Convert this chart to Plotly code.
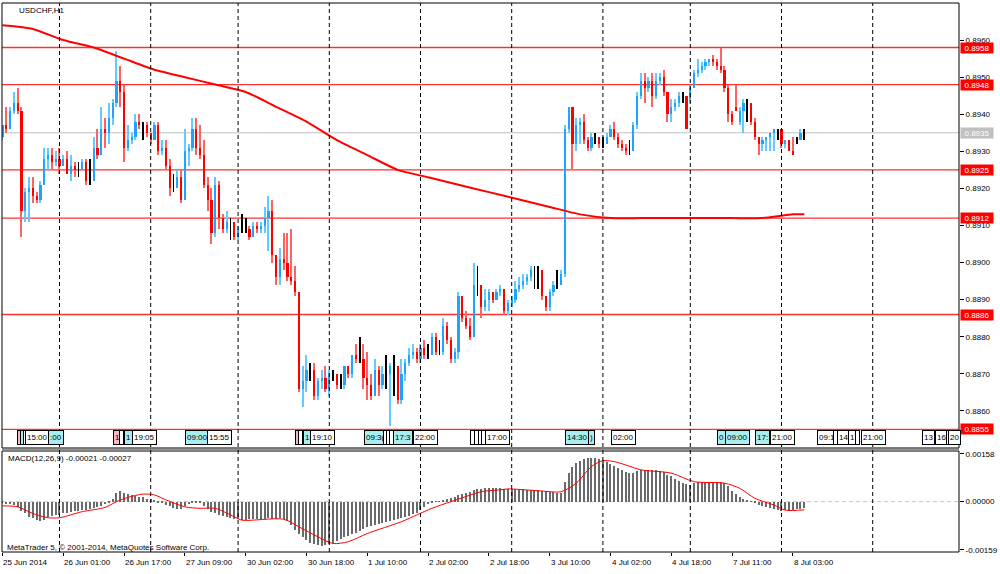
import plotly.graph_objects as go

# ---------------- DATA ----------------
closes = [
 0.8937,0.8936,0.8941,0.8943,0.8941,0.8914,0.8919,0.8920,0.8918,0.8917,
 0.8921,0.8928,0.8929,0.8927,0.8928,0.8926,0.8928,0.8924,0.8926,0.8925,
 0.8925,0.8927,0.8922,0.8922,0.8931,0.8929,0.8936,0.8935,0.8939,0.8943,
 0.8949,0.8946,0.8931,0.8933,0.8934,0.8938,0.8937,0.8937,0.8935,0.8933,
 0.8937,0.8930,0.8931,0.8926,0.8920,0.8920,0.8923,0.8917,0.8930,0.8931,
 0.8936,0.8931,0.8929,0.8921,0.8917,0.8908,0.8921,0.8912,0.8909,0.8911,
 0.8911,0.8907,0.8909,0.8909,0.8909,0.8907,0.8910,0.8909,0.8910,0.8912,
 0.8914,0.8902,0.8896,0.8901,0.8900,0.8896,0.8895,0.8892,0.8866,0.8868,
 0.8871,0.8871,0.8864,0.8868,0.8869,0.8866,0.8870,0.8870,0.8867,0.8867,
 0.8872,0.8870,0.8875,0.8874,0.8874,0.8869,0.8867,0.8864,0.8871,0.8867,
 0.8870,0.8870,0.8872,0.8872,0.8863,0.8870,0.8873,0.8875,0.8876,0.8874,
 0.8877,0.8875,0.8875,0.8880,0.8876,0.8876,0.8883,0.8879,0.8874,0.8876,
 0.8891,0.8885,0.8883,0.8880,0.8894,0.8894,0.8888,0.8890,0.8892,0.8890,
 0.8892,0.8893,0.8887,0.8889,0.8890,0.8893,0.8894,0.8895,0.8896,0.8898,
 0.8898,0.8898,0.8891,0.8888,0.8892,0.8894,0.8894,0.8897,0.8936,0.8942,
 0.8932,0.8937,0.8938,0.8933,0.8931,0.8934,0.8934,0.8932,0.8932,0.8934,
 0.8936,0.8934,0.8932,0.8931,0.8930,0.8930,0.8937,0.8945,0.8949,0.8947,
 0.8949,0.8945,0.8949,0.8950,0.8946,0.8940,0.8942,0.8943,0.8945,0.8945,
 0.8936,0.8947,0.8951,0.8952,0.8953,0.8954,0.8955,0.8954,0.8953,0.8952,
 0.8947,0.8940,0.8938,0.8941,0.8941,0.8943,0.8943,0.8938,0.8934,0.8932,
 0.8933,0.8934,0.8935,0.8936,0.8936,0.8932,0.8933,0.8930,0.8929,0.8933,
 0.8935,0.8935]

highs = [
 0.8937,0.8942,0.8942,0.8946,0.8947,0.8942,0.8920,0.8923,0.8923,0.8919,
 0.8922,0.8931,0.8931,0.8931,0.8930,0.8931,0.8929,0.8930,0.8929,0.8927,
 0.8927,0.8928,0.8928,0.8928,0.8934,0.8936,0.8942,0.8939,0.8943,0.8944,
 0.8957,0.8953,0.8948,0.8937,0.8935,0.8940,0.8940,0.8938,0.8938,0.8935,
 0.8938,0.8938,0.8933,0.8933,0.8928,0.8924,0.8925,0.8925,0.8936,0.8932,
 0.8939,0.8939,0.8937,0.8933,0.8923,0.8920,0.8923,0.8922,0.8913,0.8914,
 0.8912,0.8911,0.8910,0.8913,0.8912,0.8910,0.8911,0.8911,0.8911,0.8915,
 0.8918,0.8917,0.8902,0.8904,0.8908,0.8908,0.8909,0.8899,0.8892,0.8872,
 0.8875,0.8873,0.8873,0.8869,0.8871,0.8872,0.8871,0.8871,0.8870,0.8870,
 0.8872,0.8872,0.8875,0.8878,0.8880,0.8878,0.8876,0.8870,0.8874,0.8872,
 0.8872,0.8875,0.8873,0.8875,0.8872,0.8874,0.8874,0.8877,0.8878,0.8877,
 0.8878,0.8879,0.8878,0.8881,0.8881,0.8879,0.8885,0.8884,0.8880,0.8877,
 0.8892,0.8891,0.8887,0.8885,0.8900,0.8899,0.8894,0.8893,0.8893,0.8892,
 0.8893,0.8894,0.8893,0.8890,0.8891,0.8895,0.8896,0.8897,0.8897,0.8899,
 0.8899,0.8899,0.8898,0.8891,0.8893,0.8895,0.8898,0.8898,0.8937,0.8942,
 0.8942,0.8939,0.8939,0.8940,0.8934,0.8935,0.8935,0.8934,0.8934,0.8935,
 0.8937,0.8938,0.8935,0.8933,0.8932,0.8933,0.8938,0.8946,0.8951,0.8951,
 0.8950,0.8951,0.8951,0.8951,0.8952,0.8946,0.8944,0.8944,0.8946,0.8946,
 0.8945,0.8948,0.8952,0.8955,0.8954,0.8955,0.8955,0.8956,0.8955,0.8958,
 0.8953,0.8948,0.8941,0.8948,0.8942,0.8944,0.8944,0.8943,0.8939,0.8934,
 0.8934,0.8934,0.8935,0.8936,0.8936,0.8934,0.8933,0.8933,0.8934,0.8934,
 0.8936,0.8936]

lows = [
 0.8933,0.8935,0.8936,0.8940,0.8940,0.8907,0.8911,0.8911,0.8916,0.8916,
 0.8916,0.8921,0.8925,0.8925,0.8926,0.8924,0.8926,0.8924,0.8922,0.8923,
 0.8923,0.8925,0.8921,0.8921,0.8922,0.8928,0.8929,0.8931,0.8932,0.8937,
 0.8942,0.8942,0.8927,0.8930,0.8932,0.8933,0.8936,0.8933,0.8934,0.8932,
 0.8933,0.8929,0.8929,0.8925,0.8918,0.8919,0.8920,0.8916,0.8917,0.8926,
 0.8930,0.8929,0.8928,0.8920,0.8914,0.8905,0.8907,0.8909,0.8908,0.8908,
 0.8906,0.8906,0.8906,0.8908,0.8908,0.8906,0.8907,0.8908,0.8908,0.8908,
 0.8903,0.8900,0.8894,0.8894,0.8898,0.8895,0.8894,0.8891,0.8865,0.8861,
 0.8865,0.8868,0.8863,0.8863,0.8866,0.8865,0.8864,0.8868,0.8866,0.8866,
 0.8866,0.8869,0.8869,0.8873,0.8873,0.8866,0.8863,0.8863,0.8864,0.8864,
 0.8866,0.8866,0.8856,0.8864,0.8862,0.8862,0.8868,0.8872,0.8874,0.8873,
 0.8873,0.8874,0.8874,0.8875,0.8875,0.8875,0.8875,0.8878,0.8873,0.8873,
 0.8874,0.8884,0.8882,0.8879,0.8880,0.8891,0.8885,0.8887,0.8887,0.8889,
 0.8890,0.8891,0.8886,0.8886,0.8888,0.8889,0.8892,0.8893,0.8894,0.8895,
 0.8893,0.8893,0.8890,0.8887,0.8887,0.8891,0.8893,0.8894,0.8896,0.8935,
 0.8925,0.8930,0.8932,0.8932,0.8930,0.8930,0.8932,0.8931,0.8931,0.8932,
 0.8934,0.8933,0.8931,0.8930,0.8929,0.8929,0.8930,0.8936,0.8944,0.8943,
 0.8946,0.8942,0.8944,0.8948,0.8945,0.8938,0.8938,0.8941,0.8942,0.8943,
 0.8936,0.8943,0.8947,0.8950,0.8951,0.8952,0.8953,0.8953,0.8952,0.8951,
 0.8946,0.8938,0.8937,0.8941,0.8937,0.8935,0.8938,0.8937,0.8933,0.8929,
 0.8930,0.8930,0.8930,0.8930,0.8933,0.8931,0.8931,0.8930,0.8929,0.8932,
 0.8933,0.8933]

# opens follow the previous close except where the chart shows a gap
open_overrides = {0: 0.8934, 181: 0.8944, 193: 0.8942, 194: 0.8938, 209: 0.8933}

# long moving average (red line), read every 8 bars
ma_idx = [0, 8, 16, 24, 32, 40, 48, 56, 64, 72, 80, 88, 96, 104, 112, 120,
          128, 136, 144, 152, 160, 168, 176, 184, 192, 200, 208, 211]
ma_vals = [0.8964, 0.8963, 0.8960, 0.8958, 0.8955, 0.8952, 0.8950, 0.8948,
           0.8946, 0.8942, 0.8938, 0.8933, 0.8929, 0.8925, 0.8923, 0.8921,
           0.8919, 0.8917, 0.8915, 0.8913, 0.8912, 0.8912, 0.8912, 0.8912,
           0.8912, 0.8912, 0.8913, 0.8913]

# MACD main (histogram), in units of 1e-5
macd_e5 = [
 -6,-8,-8,-11,-19,-30,-39,-50,-55,-61,-64,-61,-52,-47,-44,-43,-39,-36,-34,-32,
 -30,-29,-28,-25,-22,-19,-14,-8,-3,10,30,36,30,25,21,19,17,14,10,8,
 3,-2,-6,-10,-14,-20,-24,-23,-14,-8,-4,-3,-6,-14,-25,-33,-39,-43,-47,-50,
 -53,-56,-58,-61,-59,-58,-57,-57,-57,-56,-55,-56,-56,-55,-58,-63,-77,-94,-107,-118,
 -128,-135,-140,-144,-145,-144,-140,-135,-129,-123,-118,-112,-107,-102,-98,-91,-85,-80,-76,-74,
 -69,-66,-63,-61,-58,-54,-50,-46,-42,-36,-28,-19,-8,-4,-1,2,6,9,11,17,
 22,25,28,32,39,42,43,44,44,44,44,44,43,42,42,42,41,41,40,39,
 39,37,36,34,33,32,30,30,66,96,113,127,135,141,143,143,143,141,136,131,
 125,119,111,105,99,96,96,101,105,105,105,105,105,102,98,89,83,76,69,63,
 58,55,61,64,65,65,65,65,65,64,61,50,36,25,14,8,6,1,-6,-11,
 -14,-19,-22,-25,-28,-30,-29,-28,-28,-25,-23,-21]

# MACD signal line, in units of 1e-5
sig_idx = [0, 4, 8, 12, 15, 21, 27, 30, 33, 37, 40, 43, 48, 52, 56, 61, 63, 74,
           78, 83, 87, 91, 96, 105, 109, 113, 118, 122, 126, 131, 133, 141, 147,
           151, 155, 158, 161, 164, 168, 176, 182, 190, 194, 198, 203, 206, 211]
sig_e5 = [-14, -17, -39, -53, -53, -33, -19, 0, 14, 25, 22, 6, -17, -22, -22, -50,
          -61, -58, -83, -116, -138, -132, -105, -66, -44, -22, 0, 17, 33, 39, 42,
          36, 33, 61, 116, 135, 132, 121, 105, 94, 66, 61, 44, 11, -11, -28, -27]

levels = [0.8958, 0.8948, 0.8925, 0.8912, 0.8886, 0.8855]
bid = 0.8935
price_ticks = [0.8860, 0.8870, 0.8880, 0.8890, 0.8900, 0.8910, 0.8920,
               0.8930, 0.8940, 0.8950, 0.8960]
macd_ticks = [0.00158, 0.0, -0.00159]
macd_ticktext = ["0.00158", "0.00000", "-0.00159"]

time_idx = [0, 16, 32, 48, 64, 80, 96, 112, 128, 144, 160, 176, 192, 208]
time_labels = ["25 Jun 2014", "26 Jun 01:00", "26 Jun 17:00", "27 Jun 09:00",
               "30 Jun 02:00", "30 Jun 18:00", "1 Jul 10:00", "2 Jul 02:00",
               "2 Jul 18:00", "3 Jul 10:00", "4 Jul 02:00", "4 Jul 18:00",
               "7 Jul 11:00", "8 Jul 03:00"]
day_sep_idx = [15, 39, 62, 86, 110, 134, 158, 181, 205, 229]

# economic calendar event markers (bar position, label, kind)
events = [
 (3.8, "", "p"), (4.6, "", "c"), (5.4, "", "w"), (6, "15:00", "w"), (11.9, ":00", "c"),
 (29.1, "1", "p"), (30.7, "", "w"), (32, "1", "c"), (34, "19:05", "w"),
 (48, "09:00", "c"), (53.8, "15:55", "w"),
 (77, "", "p"), (77.8, "", "w"), (79, "1", "c"), (80.9, "19:10", "w"),
 (95, "09:3(", "c"), (100.2, "", "w"), (101, "", "w"), (101.8, "", "w"),
 (102.8, "17:3", "c"), (108, "22:00", "w"),
 (123, "", "w"), (124, "", "w"), (125, "", "w"), (126, "", "w"), (127, "17:00", "w"),
 (148, "14:30", "c"), (154, ")", "c"), (160, "02:00", "w"),
 (188, "0", "c"), (190, "09:00", "c"), (198, "17:", "c"), (202, "21:00", "w"),
 (214.3, "09:1", "w"), (218.5, "", "w"), (219.6, "14", "w"), (222.5, "1", "w"),
 (224.3, "", "w"), (226, "21:00", "w"),
 (242, "13", "w"), (245.4, "16", "w"), (248.3, "", "w"), (248.9, "20", "w"),
]

# ---------------- BUILD ----------------
n = len(closes)
xs = list(range(n))
opens = [open_overrides.get(i, closes[i - 1] if i > 0 else closes[0]) for i in range(n)]

UP_BODY, UP_WICK = "#1ea4ff", "#62cbff"
DN_BODY, DN_WICK = "#ff0000", "#ff6262"
DOJI = "#000000"

groups = {"up": ([], [], [], [], []), "dn": ([], [], [], [], []), "dj": ([], [], [], [], [])}
for i in range(n):
    o, c = opens[i], closes[i]
    h = max(highs[i], o, c)
    l = min(lows[i], o, c)
    if round(c - o, 5) > 0:
        k = "up"
    elif round(c - o, 5) < 0:
        k = "dn"
    else:
        k = "dj"
    g = groups[k]
    g[0].append(i); g[1].append(l); g[2].append(h - l)
    g[3].append(min(o, c)); g[4].append(abs(c - o))

fig = go.Figure()
wick_col = {"up": UP_WICK, "dn": DN_WICK, "dj": DOJI}
body_col = {"up": UP_BODY, "dn": DN_BODY, "dj": DOJI}
for k in ["up", "dn", "dj"]:
    g = groups[k]
    fig.add_trace(go.Bar(x=g[0], base=g[1], y=g[2], width=0.3 if k != "dj" else 0.26,
                         marker=dict(color=wick_col[k], line=dict(width=0)),
                         xaxis="x", yaxis="y", hoverinfo="skip"))
for k in ["up", "dn"]:
    g = groups[k]
    fig.add_trace(go.Bar(x=g[0], base=g[3], y=g[4], width=0.6,
                         marker=dict(color=body_col[k], line=dict(width=0)),
                         xaxis="x", yaxis="y", hoverinfo="skip"))

fig.add_trace(go.Scatter(x=ma_idx, y=ma_vals, mode="lines",
                         line=dict(color="#ff0000", width=2, shape="spline", smoothing=0.6),
                         xaxis="x", yaxis="y", hoverinfo="skip"))

fig.add_trace(go.Bar(x=xs, y=[v * 1e-5 for v in macd_e5], width=0.32,
                     marker=dict(color="#6a6a6a", line=dict(width=0)),
                     xaxis="x", yaxis="y2", hoverinfo="skip"))
fig.add_trace(go.Scatter(x=sig_idx, y=[v * 1e-5 for v in sig_e5], mode="lines",
                         line=dict(color="#ff0000", width=1, shape="spline", smoothing=0.8),
                         xaxis="x", yaxis="y2", hoverinfo="skip"))

# ---------------- LAYOUT ----------------
TOP_DOM = [0.18944, 1.0]
BOT_DOM = [0.0, 0.18397]
FONT = "Liberation Sans"

shapes = []
for d in day_sep_idx:
    shapes.append(dict(type="line", xref="x", yref="paper", x0=d, x1=d, y0=0, y1=1,
                       line=dict(color="black", width=1, dash="4px,3px"), layer="above"))
for lv in levels:
    shapes.append(dict(type="line", xref="paper", yref="y", x0=0, x1=1, y0=lv, y1=lv,
                       line=dict(color="#ff3030", width=1.3), layer="below"))
shapes.append(dict(type="line", xref="paper", yref="y", x0=0, x1=1, y0=bid, y1=bid,
                   line=dict(color="#c0c0c0", width=1), layer="below"))
shapes.append(dict(type="line", xref="paper", yref="y2", x0=0, x1=1, y0=0, y1=0,
                   line=dict(color="#c8c8c8", width=1, dash="4px,3px"), layer="below"))
shapes.append(dict(type="rect", xref="paper", yref="paper", x0=0, x1=1,
                   y0=TOP_DOM[0], y1=TOP_DOM[1], line=dict(color="black", width=1)))
shapes.append(dict(type="rect", xref="paper", yref="paper", x0=0, x1=1,
                   y0=BOT_DOM[0], y1=BOT_DOM[1], line=dict(color="black", width=1)))
shapes.append(dict(type="line", xref="paper", yref="paper", x0=0, x1=1,
                   y0=TOP_DOM[0] - 0.002, y1=TOP_DOM[0] - 0.002,
                   line=dict(color="#707070", width=1.5)))

ann = []
for lv in levels:
    ann.append(dict(x=1, xref="paper", xanchor="left", xshift=1, y=lv, yref="y",
                    yanchor="middle", text=f"{lv:.4f}", showarrow=False,
                    bgcolor="#ff0000", font=dict(color="white", size=8, family=FONT),
                    width=32, height=10, borderpad=0))
ann.append(dict(x=1, xref="paper", xanchor="left", xshift=1, y=bid, yref="y",
                yanchor="middle", text=f"{bid:.4f}", showarrow=False,
                bgcolor="#c0c0c0", font=dict(color="white", size=8, family=FONT),
                width=32, height=10, borderpad=0))

for ti, tl in zip(time_idx, time_labels):
    ann.append(dict(x=ti, xref="x", y=-0.008, yref="paper", xanchor="left", yanchor="top",
                    xshift=-1, text=tl, showarrow=False,
                    font=dict(color="black", size=8, family=FONT)))

ev_bg = {"w": "#ffffff", "c": "#a8eef0", "p": "#f4b8c4"}
for ex, et, ek in events:
    ann.append(dict(x=ex, xref="x", y=0.2077, yref="paper", xanchor="left",
                    yanchor="middle", text=et if et else " ", showarrow=False,
                    bgcolor=ev_bg[ek], bordercolor="black", borderwidth=1, borderpad=1,
                    height=11, width=None if et else 1,
                    font=dict(color="black", size=8, family=FONT)))

ann.append(dict(x=0.0157, xref="paper", y=0.9872, yref="paper", xanchor="left",
                yanchor="middle", text="USDCHF,H1", showarrow=False,
                font=dict(color="black", size=8, family=FONT)))
ann.append(dict(x=0.0042, xref="paper", y=0.1712, yref="paper", xanchor="left",
                yanchor="middle", text="MACD(12,26,9) -0.00021 -0.00027", showarrow=False,
                font=dict(color="black", size=8, family=FONT)))
ann.append(dict(x=0.003, xref="paper", y=0.0091, yref="paper", xanchor="left",
                yanchor="middle",
                text="MetaTrader 5, © 2001-2014, MetaQuotes Software Corp.",
                showarrow=False, font=dict(color="black", size=8, family=FONT)))

fig.update_layout(
    width=1000, height=574,
    margin=dict(l=2, r=41, t=3, b=22, pad=0),
    paper_bgcolor="white", plot_bgcolor="white",
    barmode="overlay", bargap=0, showlegend=False,
    font=dict(family=FONT, size=8, color="black"),
    xaxis=dict(range=[-0.13, 251.71], anchor="y2", showgrid=False, zeroline=False,
               showticklabels=False, ticks="outside", ticklen=3, tickcolor="black",
               tickvals=time_idx, showline=False, fixedrange=True),
    yaxis=dict(domain=TOP_DOM, range=[0.8850, 0.8970], side="right", anchor="x",
               showgrid=False, zeroline=False, tickvals=price_ticks,
               ticktext=[f"{v:.4f}" for v in price_ticks], ticks="outside",
               ticklen=4, tickcolor="black", showline=False,
               tickfont=dict(size=8, family=FONT, color="black")),
    yaxis2=dict(domain=BOT_DOM, range=[-0.00166, 0.00167], side="right", anchor="x",
                showgrid=False, zeroline=False, tickvals=macd_ticks,
                ticktext=macd_ticktext, ticks="outside", ticklen=4, tickcolor="black",
                showline=False, tickfont=dict(size=8, family=FONT, color="black")),
    shapes=shapes, annotations=ann,
)

fig.write_html("out.html",
               config={"displayModeBar": False},
               post_script="document.body.style.margin='0';document.body.style.padding='0';"
                           "document.body.style.overflow='hidden';")
